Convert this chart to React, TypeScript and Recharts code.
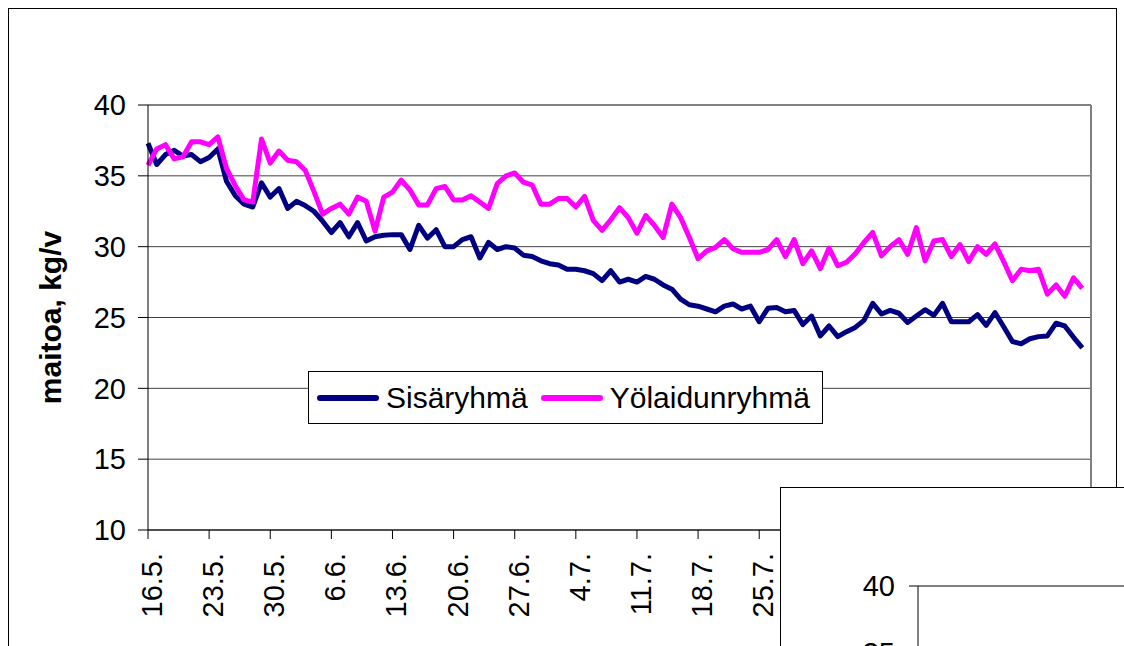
import { LineChart, Line, XAxis, YAxis, CartesianGrid, Legend, ReferenceLine, Label } from 'recharts'

const FONT = '"Liberation Sans", Arial, sans-serif'

// one label every 7th day, first day = 16.5.
const TICK_LABELS = ['16.5.', '23.5.', '30.5.', '6.6.', '13.6.', '20.6.', '27.6.', '4.7.', '11.7.', '18.7.', '25.7.', '1.8.', '8.8.', '15.8.', '22.8.', '29.8.']
const X_TICKS = TICK_LABELS.map((_, k) => k * 7)
const Y_TICKS = [10, 15, 20, 25, 30, 35, 40]

const SERIES_NAMES = ['Sisäryhmä', 'Yölaidunryhmä']

// kg milk per day, daily means
const sisaryhma = [
  37.3, 35.8, 36.5, 36.8, 36.4, 36.5, 36.0, 36.3, 36.9, 34.6,
  33.6, 33.0, 32.8, 34.5, 33.5, 34.1, 32.7, 33.2, 32.9, 32.5,
  31.8, 31.0, 31.7, 30.7, 31.7, 30.4, 30.7, 30.8, 30.85, 30.85,
  29.8, 31.5, 30.6, 31.2, 30.0, 30.0, 30.5, 30.7, 29.2, 30.3,
  29.8, 30.0, 29.9, 29.4, 29.3, 29.0, 28.8, 28.7, 28.4, 28.4,
  28.3, 28.1, 27.6, 28.3, 27.5, 27.7, 27.5, 27.9, 27.7, 27.3,
  27.0, 26.3, 25.9, 25.8, 25.6, 25.4, 25.8, 25.95, 25.6, 25.8,
  24.7, 25.65, 25.7, 25.4, 25.5, 24.5, 25.1, 23.7, 24.4, 23.65,
  24.0, 24.3, 24.8, 26.0, 25.25, 25.5, 25.3, 24.65, 25.1, 25.55,
  25.15, 26.0, 24.7, 24.7, 24.7, 25.2, 24.45, 25.35, 24.35, 23.3,
  23.15, 23.5, 23.65, 23.7, 24.6, 24.4, 23.6, 22.85,
]

const yolaidunryhma = [
  35.75, 36.9, 37.2, 36.2, 36.35, 37.4, 37.4, 37.2, 37.75, 35.5,
  34.3, 33.3, 33.15, 37.6, 35.9, 36.75, 36.1, 36.0, 35.4, 33.9,
  32.3, 32.7, 33.0, 32.3, 33.5, 33.2, 31.1, 33.5, 33.85, 34.7,
  34.0, 32.95, 32.95, 34.1, 34.25, 33.3, 33.3, 33.6, 33.15, 32.7,
  34.45, 35.0, 35.2, 34.55, 34.35, 33.0, 33.0, 33.4, 33.4, 32.8,
  33.55, 31.85, 31.15, 31.9, 32.75, 32.05, 30.95, 32.2, 31.5, 30.65,
  33.0, 32.05, 30.65, 29.15, 29.7, 29.95, 30.5, 29.85, 29.6, 29.6,
  29.6, 29.8, 30.5, 29.3, 30.5, 28.8, 29.7, 28.45, 29.9, 28.65,
  28.9, 29.5, 30.3, 31.0, 29.35, 30.0, 30.5, 29.45, 31.35, 29.0,
  30.4, 30.5, 29.3, 30.15, 28.95, 30.0, 29.45, 30.2, 28.95, 27.6,
  28.4, 28.3, 28.4, 26.65, 27.3, 26.5, 27.8, 27.05,
]

const data = sisaryhma.map((v, i) => ({ day: i, sisa: v, yo: yolaidunryhma[i] }))

function DateTick({ x, y, payload }: any) {
  const label = TICK_LABELS[Math.round(payload.value / 7)] ?? ''
  return (
    <g transform={`translate(${x},${y})`}>
      <text transform="rotate(-90)" textAnchor="end" dy={14} fontSize={29} fill="#000" fontFamily={FONT}>
        {label}
      </text>
    </g>
  )
}

function YTitle({ viewBox }: any) {
  const cy = viewBox.y + viewBox.height / 2
  return (
    <text
      x={41}
      y={cy}
      transform={`rotate(-90, 41, ${cy})`}
      textAnchor="middle"
      dominantBaseline="central"
      fontSize={30}
      fontWeight="bold"
      fontFamily={FONT}
      fill="#000"
    >
      maitoa, kg/v
    </text>
  )
}

const renderLegend = ({ payload }: any) => (
  <div style={{ display: 'flex', alignItems: 'center', height: '100%', paddingLeft: 8, boxSizing: 'border-box' }}>
    {payload.map((entry: any) => (
      <div key={entry.value} style={{ display: 'flex', alignItems: 'center', marginRight: 13 }}>
        <svg width={62} height={10}>
          <line x1={3} y1={5} x2={59} y2={5} stroke={entry.color} strokeWidth={6} strokeLinecap="round" />
        </svg>
        <span style={{ marginLeft: 7, fontSize: 30, lineHeight: '30px', fontFamily: FONT, color: '#000' }}>
          {entry.value}
        </span>
      </div>
    ))}
  </div>
)

const tickStyle = { fontSize: 29, fill: '#000', fontFamily: FONT }

export default function App() {
  return (
    <div style={{ position: 'fixed', left: 0, top: 0, width: 1124, height: 646, overflow: 'hidden', background: '#fff' }}>
      <div
        style={{
          position: 'absolute',
          left: 8,
          top: 8,
          width: 1109,
          height: 700,
          border: '1px solid #000',
          boxSizing: 'border-box',
        }}
      >
        <LineChart width={1107} height={637} data={data} margin={{ top: 96, right: 25, bottom: 0, left: 0 }}>
          <CartesianGrid vertical={false} stroke="#404040" />
          <XAxis
            dataKey="day"
            type="number"
            domain={[0, 108]}
            ticks={X_TICKS}
            interval={0}
            height={116}
            tickSize={9}
            tickMargin={14}
            tick={<DateTick />}
            stroke="#000"
          />
          <YAxis
            domain={[10, 40]}
            ticks={Y_TICKS}
            width={139}
            tickSize={10}
            tickMargin={12}
            tick={tickStyle}
            stroke="#000"
            allowDataOverflow
          >
            <Label content={<YTitle />} />
          </YAxis>
          <ReferenceLine y={40} stroke="#808080" strokeWidth={2} />
          <ReferenceLine x={108} stroke="#808080" strokeWidth={2} />
          <Line
            type="linear"
            dataKey="sisa"
            name={SERIES_NAMES[0]}
            stroke="#000080"
            strokeWidth={5}
            strokeLinejoin="round"
            dot={false}
            isAnimationActive={false}
          />
          <Line
            type="linear"
            dataKey="yo"
            name={SERIES_NAMES[1]}
            stroke="#FF00FF"
            strokeWidth={5}
            strokeLinejoin="round"
            dot={false}
            isAnimationActive={false}
          />
          <Legend
            layout="horizontal"
            verticalAlign="middle"
            align="center"
            content={renderLegend}
            wrapperStyle={{
              left: 299,
              top: 362,
              width: 515,
              height: 53,
              border: '1px solid #000',
              background: '#fff',
              boxSizing: 'border-box',
            }}
          />
        </LineChart>
      </div>

      {/* next chart on the sheet, partly in view */}
      <div
        style={{
          position: 'absolute',
          left: 780,
          top: 487,
          width: 500,
          height: 400,
          border: '1px solid #000',
          background: '#fff',
          boxSizing: 'border-box',
        }}
      >
        <LineChart width={498} height={520} data={data} margin={{ top: 98, right: 0, bottom: 20, left: 0 }}>
          <CartesianGrid vertical={false} stroke="#404040" />
          <XAxis dataKey="day" type="number" domain={[0, 108]} hide />
          <YAxis
            type="number"
            domain={[10, 40]}
            ticks={Y_TICKS}
            width={137}
            tickSize={9}
            tickMargin={14}
            tick={tickStyle}
            stroke="#000"
            allowDataOverflow
          />
          <ReferenceLine y={40} stroke="#808080" strokeWidth={2} />
        </LineChart>
      </div>
    </div>
  )
}
